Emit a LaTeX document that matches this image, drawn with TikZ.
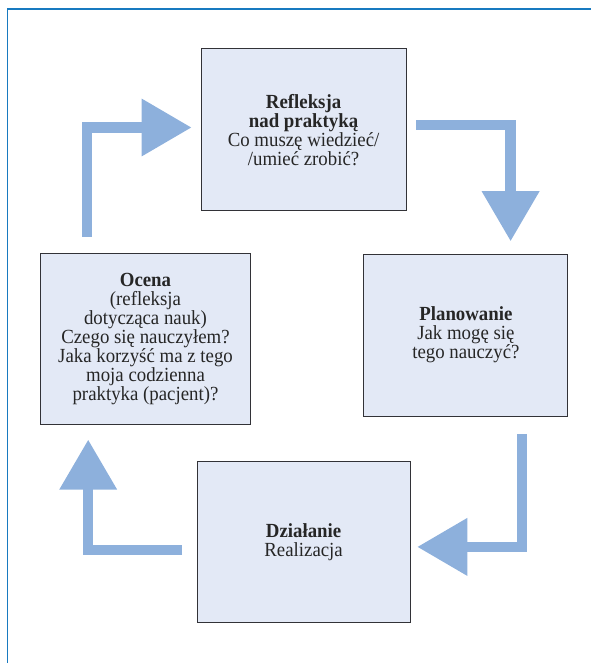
\documentclass[tikz,border=0pt]{standalone}
\usepackage{fontspec}
\setmainfont{Liberation Serif}[FakeStretch=0.94]
\usetikzlibrary{arrows.meta}
\definecolor{framebl}{RGB}{24,122,192}
\definecolor{boxfill}{RGB}{227,233,246}
\definecolor{boxline}{RGB}{50,50,55}
\definecolor{flowbl}{RGB}{141,176,220}
\tikzset{
  stage/.style={draw=boxline, fill=boxfill, line width=0.9pt, align=center, inner sep=0pt,
    text=black!85, font=\fontsize{19}{18}\selectfont},
  flow/.style={draw=flowbl, line width=0.35cm, -{Triangle[length=1.67cm, width=1.83cm]}}
}
\begin{document}
\begin{tikzpicture}[x=1cm,y=1cm]
\useasboundingbox (0,0) rectangle (19.7,-22.1);
\draw[framebl, line width=1.3pt] (0.25,-22.1) -- (0.25,-0.3) -- (19.7,-0.3);
\node[stage, minimum width=6.83cm, minimum height=5.4cm] (refl) at (10.12,-4.33) {\textbf{Refleksja}\\\textbf{nad praktyką}\\Co muszę wiedzieć/\\/umieć zrobić?};
\node[stage, minimum width=6.8cm, minimum height=5.4cm] (plan) at (15.53,-11.17) {\textbf{Planowanie}\\Jak mogę się\\tego nauczyć?};
\node[stage, minimum width=7.1cm, minimum height=5.37cm] (dzial) at (10.12,-18.08) {\textbf{Działanie}\\Realizacja};
\node[stage, minimum width=7.03cm, minimum height=5.73cm] (ocena) at (4.85,-11.3) {\textbf{Ocena}\\(refleksja\\dotycząca nauk)\\Czego się nauczyłem?\\Jaka korzyść ma z tego\\moja codzienna\\praktyka (pacjent)?};
\draw[flow, shorten >=0.41cm] ([xshift=0.33cm,yshift=0.16cm]refl.east) -| ([xshift=1.49cm]plan.north);
\draw[flow, shorten >=0.22cm] ([xshift=1.87cm,yshift=-0.58cm]plan.south) |- ([yshift=-0.15cm]dzial.east);
\draw[flow, shorten >=0.47cm] ([xshift=-0.48cm,yshift=-0.25cm]dzial.west) -| ([xshift=-1.91cm]ocena.south);
\draw[flow, shorten >=0.3cm] ([xshift=-1.95cm,yshift=0.53cm]ocena.north) |- ([yshift=0.08cm]refl.west);
\end{tikzpicture}
\end{document}
